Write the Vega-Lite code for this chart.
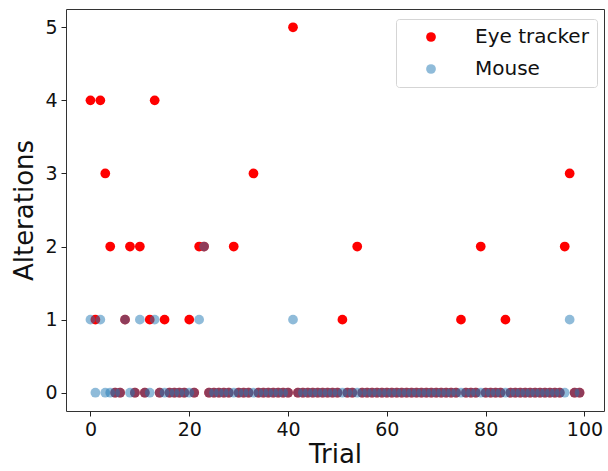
{
  "$schema": "https://vega.github.io/schema/vega-lite/v6.json",
  "width": 538,
  "height": 402,
  "autosize": {"type": "none"},
  "padding": {"left": 66, "top": 9, "right": 4, "bottom": 60},
  "background": "white",
  "config": {
    "font": "DejaVu Sans",
    "view": {"stroke": "#333333", "strokeWidth": 1},
    "axis": {
      "grid": false,
      "domain": false,
      "tickColor": "#222222",
      "tickSize": 5,
      "tickWidth": 1,
      "labelFont": "DejaVu Sans",
      "labelFontSize": 19,
      "labelColor": "#111111",
      "labelPadding": 4,
      "titleFont": "DejaVu Sans",
      "titleFontSize": 26,
      "titleFontWeight": "normal",
      "titleColor": "#111111"
    }
  },
  "data": {
    "values": [
      {"trial": 0, "alterations": 4, "device": "Eye tracker"},
      {"trial": 1, "alterations": 1, "device": "Eye tracker"},
      {"trial": 2, "alterations": 4, "device": "Eye tracker"},
      {"trial": 3, "alterations": 3, "device": "Eye tracker"},
      {"trial": 4, "alterations": 2, "device": "Eye tracker"},
      {"trial": 5, "alterations": 0, "device": "Eye tracker"},
      {"trial": 6, "alterations": 0, "device": "Eye tracker"},
      {"trial": 7, "alterations": 1, "device": "Eye tracker"},
      {"trial": 8, "alterations": 2, "device": "Eye tracker"},
      {"trial": 9, "alterations": 0, "device": "Eye tracker"},
      {"trial": 10, "alterations": 2, "device": "Eye tracker"},
      {"trial": 11, "alterations": 0, "device": "Eye tracker"},
      {"trial": 12, "alterations": 1, "device": "Eye tracker"},
      {"trial": 13, "alterations": 4, "device": "Eye tracker"},
      {"trial": 14, "alterations": 0, "device": "Eye tracker"},
      {"trial": 15, "alterations": 1, "device": "Eye tracker"},
      {"trial": 16, "alterations": 0, "device": "Eye tracker"},
      {"trial": 17, "alterations": 0, "device": "Eye tracker"},
      {"trial": 18, "alterations": 0, "device": "Eye tracker"},
      {"trial": 19, "alterations": 0, "device": "Eye tracker"},
      {"trial": 20, "alterations": 1, "device": "Eye tracker"},
      {"trial": 21, "alterations": 0, "device": "Eye tracker"},
      {"trial": 22, "alterations": 2, "device": "Eye tracker"},
      {"trial": 23, "alterations": 2, "device": "Eye tracker"},
      {"trial": 24, "alterations": 0, "device": "Eye tracker"},
      {"trial": 25, "alterations": 0, "device": "Eye tracker"},
      {"trial": 26, "alterations": 0, "device": "Eye tracker"},
      {"trial": 27, "alterations": 0, "device": "Eye tracker"},
      {"trial": 28, "alterations": 0, "device": "Eye tracker"},
      {"trial": 29, "alterations": 2, "device": "Eye tracker"},
      {"trial": 30, "alterations": 0, "device": "Eye tracker"},
      {"trial": 31, "alterations": 0, "device": "Eye tracker"},
      {"trial": 32, "alterations": 0, "device": "Eye tracker"},
      {"trial": 33, "alterations": 3, "device": "Eye tracker"},
      {"trial": 34, "alterations": 0, "device": "Eye tracker"},
      {"trial": 35, "alterations": 0, "device": "Eye tracker"},
      {"trial": 36, "alterations": 0, "device": "Eye tracker"},
      {"trial": 37, "alterations": 0, "device": "Eye tracker"},
      {"trial": 38, "alterations": 0, "device": "Eye tracker"},
      {"trial": 39, "alterations": 0, "device": "Eye tracker"},
      {"trial": 40, "alterations": 0, "device": "Eye tracker"},
      {"trial": 41, "alterations": 5, "device": "Eye tracker"},
      {"trial": 42, "alterations": 0, "device": "Eye tracker"},
      {"trial": 43, "alterations": 0, "device": "Eye tracker"},
      {"trial": 44, "alterations": 0, "device": "Eye tracker"},
      {"trial": 45, "alterations": 0, "device": "Eye tracker"},
      {"trial": 46, "alterations": 0, "device": "Eye tracker"},
      {"trial": 47, "alterations": 0, "device": "Eye tracker"},
      {"trial": 48, "alterations": 0, "device": "Eye tracker"},
      {"trial": 49, "alterations": 0, "device": "Eye tracker"},
      {"trial": 50, "alterations": 0, "device": "Eye tracker"},
      {"trial": 51, "alterations": 1, "device": "Eye tracker"},
      {"trial": 52, "alterations": 0, "device": "Eye tracker"},
      {"trial": 53, "alterations": 0, "device": "Eye tracker"},
      {"trial": 54, "alterations": 2, "device": "Eye tracker"},
      {"trial": 55, "alterations": 0, "device": "Eye tracker"},
      {"trial": 56, "alterations": 0, "device": "Eye tracker"},
      {"trial": 57, "alterations": 0, "device": "Eye tracker"},
      {"trial": 58, "alterations": 0, "device": "Eye tracker"},
      {"trial": 59, "alterations": 0, "device": "Eye tracker"},
      {"trial": 60, "alterations": 0, "device": "Eye tracker"},
      {"trial": 61, "alterations": 0, "device": "Eye tracker"},
      {"trial": 62, "alterations": 0, "device": "Eye tracker"},
      {"trial": 63, "alterations": 0, "device": "Eye tracker"},
      {"trial": 64, "alterations": 0, "device": "Eye tracker"},
      {"trial": 65, "alterations": 0, "device": "Eye tracker"},
      {"trial": 66, "alterations": 0, "device": "Eye tracker"},
      {"trial": 67, "alterations": 0, "device": "Eye tracker"},
      {"trial": 68, "alterations": 0, "device": "Eye tracker"},
      {"trial": 69, "alterations": 0, "device": "Eye tracker"},
      {"trial": 70, "alterations": 0, "device": "Eye tracker"},
      {"trial": 71, "alterations": 0, "device": "Eye tracker"},
      {"trial": 72, "alterations": 0, "device": "Eye tracker"},
      {"trial": 73, "alterations": 0, "device": "Eye tracker"},
      {"trial": 74, "alterations": 0, "device": "Eye tracker"},
      {"trial": 75, "alterations": 1, "device": "Eye tracker"},
      {"trial": 76, "alterations": 0, "device": "Eye tracker"},
      {"trial": 77, "alterations": 0, "device": "Eye tracker"},
      {"trial": 78, "alterations": 0, "device": "Eye tracker"},
      {"trial": 79, "alterations": 2, "device": "Eye tracker"},
      {"trial": 80, "alterations": 0, "device": "Eye tracker"},
      {"trial": 81, "alterations": 0, "device": "Eye tracker"},
      {"trial": 82, "alterations": 0, "device": "Eye tracker"},
      {"trial": 83, "alterations": 0, "device": "Eye tracker"},
      {"trial": 84, "alterations": 1, "device": "Eye tracker"},
      {"trial": 85, "alterations": 0, "device": "Eye tracker"},
      {"trial": 86, "alterations": 0, "device": "Eye tracker"},
      {"trial": 87, "alterations": 0, "device": "Eye tracker"},
      {"trial": 88, "alterations": 0, "device": "Eye tracker"},
      {"trial": 89, "alterations": 0, "device": "Eye tracker"},
      {"trial": 90, "alterations": 0, "device": "Eye tracker"},
      {"trial": 91, "alterations": 0, "device": "Eye tracker"},
      {"trial": 92, "alterations": 0, "device": "Eye tracker"},
      {"trial": 93, "alterations": 0, "device": "Eye tracker"},
      {"trial": 94, "alterations": 0, "device": "Eye tracker"},
      {"trial": 95, "alterations": 0, "device": "Eye tracker"},
      {"trial": 96, "alterations": 2, "device": "Eye tracker"},
      {"trial": 97, "alterations": 3, "device": "Eye tracker"},
      {"trial": 98, "alterations": 0, "device": "Eye tracker"},
      {"trial": 99, "alterations": 0, "device": "Eye tracker"},
      {"trial": 0, "alterations": 1, "device": "Mouse"},
      {"trial": 1, "alterations": 0, "device": "Mouse"},
      {"trial": 2, "alterations": 1, "device": "Mouse"},
      {"trial": 3, "alterations": 0, "device": "Mouse"},
      {"trial": 4, "alterations": 0, "device": "Mouse"},
      {"trial": 5, "alterations": 0, "device": "Mouse"},
      {"trial": 6, "alterations": 0, "device": "Mouse"},
      {"trial": 7, "alterations": 1, "device": "Mouse"},
      {"trial": 8, "alterations": 0, "device": "Mouse"},
      {"trial": 9, "alterations": 0, "device": "Mouse"},
      {"trial": 10, "alterations": 1, "device": "Mouse"},
      {"trial": 11, "alterations": 0, "device": "Mouse"},
      {"trial": 12, "alterations": 0, "device": "Mouse"},
      {"trial": 13, "alterations": 1, "device": "Mouse"},
      {"trial": 14, "alterations": 0, "device": "Mouse"},
      {"trial": 15, "alterations": 0, "device": "Mouse"},
      {"trial": 16, "alterations": 0, "device": "Mouse"},
      {"trial": 17, "alterations": 0, "device": "Mouse"},
      {"trial": 18, "alterations": 0, "device": "Mouse"},
      {"trial": 19, "alterations": 0, "device": "Mouse"},
      {"trial": 20, "alterations": 0, "device": "Mouse"},
      {"trial": 21, "alterations": 0, "device": "Mouse"},
      {"trial": 22, "alterations": 1, "device": "Mouse"},
      {"trial": 23, "alterations": 2, "device": "Mouse"},
      {"trial": 24, "alterations": 0, "device": "Mouse"},
      {"trial": 25, "alterations": 0, "device": "Mouse"},
      {"trial": 26, "alterations": 0, "device": "Mouse"},
      {"trial": 27, "alterations": 0, "device": "Mouse"},
      {"trial": 28, "alterations": 0, "device": "Mouse"},
      {"trial": 29, "alterations": 0, "device": "Mouse"},
      {"trial": 30, "alterations": 0, "device": "Mouse"},
      {"trial": 31, "alterations": 0, "device": "Mouse"},
      {"trial": 32, "alterations": 0, "device": "Mouse"},
      {"trial": 33, "alterations": 0, "device": "Mouse"},
      {"trial": 34, "alterations": 0, "device": "Mouse"},
      {"trial": 35, "alterations": 0, "device": "Mouse"},
      {"trial": 36, "alterations": 0, "device": "Mouse"},
      {"trial": 37, "alterations": 0, "device": "Mouse"},
      {"trial": 38, "alterations": 0, "device": "Mouse"},
      {"trial": 39, "alterations": 0, "device": "Mouse"},
      {"trial": 40, "alterations": 0, "device": "Mouse"},
      {"trial": 41, "alterations": 1, "device": "Mouse"},
      {"trial": 42, "alterations": 0, "device": "Mouse"},
      {"trial": 43, "alterations": 0, "device": "Mouse"},
      {"trial": 44, "alterations": 0, "device": "Mouse"},
      {"trial": 45, "alterations": 0, "device": "Mouse"},
      {"trial": 46, "alterations": 0, "device": "Mouse"},
      {"trial": 47, "alterations": 0, "device": "Mouse"},
      {"trial": 48, "alterations": 0, "device": "Mouse"},
      {"trial": 49, "alterations": 0, "device": "Mouse"},
      {"trial": 50, "alterations": 0, "device": "Mouse"},
      {"trial": 51, "alterations": 0, "device": "Mouse"},
      {"trial": 52, "alterations": 0, "device": "Mouse"},
      {"trial": 53, "alterations": 0, "device": "Mouse"},
      {"trial": 54, "alterations": 0, "device": "Mouse"},
      {"trial": 55, "alterations": 0, "device": "Mouse"},
      {"trial": 56, "alterations": 0, "device": "Mouse"},
      {"trial": 57, "alterations": 0, "device": "Mouse"},
      {"trial": 58, "alterations": 0, "device": "Mouse"},
      {"trial": 59, "alterations": 0, "device": "Mouse"},
      {"trial": 60, "alterations": 0, "device": "Mouse"},
      {"trial": 61, "alterations": 0, "device": "Mouse"},
      {"trial": 62, "alterations": 0, "device": "Mouse"},
      {"trial": 63, "alterations": 0, "device": "Mouse"},
      {"trial": 64, "alterations": 0, "device": "Mouse"},
      {"trial": 65, "alterations": 0, "device": "Mouse"},
      {"trial": 66, "alterations": 0, "device": "Mouse"},
      {"trial": 67, "alterations": 0, "device": "Mouse"},
      {"trial": 68, "alterations": 0, "device": "Mouse"},
      {"trial": 69, "alterations": 0, "device": "Mouse"},
      {"trial": 70, "alterations": 0, "device": "Mouse"},
      {"trial": 71, "alterations": 0, "device": "Mouse"},
      {"trial": 72, "alterations": 0, "device": "Mouse"},
      {"trial": 73, "alterations": 0, "device": "Mouse"},
      {"trial": 74, "alterations": 0, "device": "Mouse"},
      {"trial": 75, "alterations": 0, "device": "Mouse"},
      {"trial": 76, "alterations": 0, "device": "Mouse"},
      {"trial": 77, "alterations": 0, "device": "Mouse"},
      {"trial": 78, "alterations": 0, "device": "Mouse"},
      {"trial": 79, "alterations": 0, "device": "Mouse"},
      {"trial": 80, "alterations": 0, "device": "Mouse"},
      {"trial": 81, "alterations": 0, "device": "Mouse"},
      {"trial": 82, "alterations": 0, "device": "Mouse"},
      {"trial": 83, "alterations": 0, "device": "Mouse"},
      {"trial": 84, "alterations": 0, "device": "Mouse"},
      {"trial": 85, "alterations": 0, "device": "Mouse"},
      {"trial": 86, "alterations": 0, "device": "Mouse"},
      {"trial": 87, "alterations": 0, "device": "Mouse"},
      {"trial": 88, "alterations": 0, "device": "Mouse"},
      {"trial": 89, "alterations": 0, "device": "Mouse"},
      {"trial": 90, "alterations": 0, "device": "Mouse"},
      {"trial": 91, "alterations": 0, "device": "Mouse"},
      {"trial": 92, "alterations": 0, "device": "Mouse"},
      {"trial": 93, "alterations": 0, "device": "Mouse"},
      {"trial": 94, "alterations": 0, "device": "Mouse"},
      {"trial": 95, "alterations": 0, "device": "Mouse"},
      {"trial": 96, "alterations": 0, "device": "Mouse"},
      {"trial": 97, "alterations": 1, "device": "Mouse"},
      {"trial": 98, "alterations": 0, "device": "Mouse"},
      {"trial": 99, "alterations": 0, "device": "Mouse"}
    ]
  },
  "mark": {"type": "circle", "size": 95},
  "encoding": {
    "x": {
      "field": "trial",
      "type": "quantitative",
      "scale": {"domain": [-4.95, 103.95], "nice": false, "zero": false},
      "axis": {"values": [0, 20, 40, 60, 80, 100], "title": "Trial", "titlePadding": 2}
    },
    "y": {
      "field": "alterations",
      "type": "quantitative",
      "scale": {"domain": [-0.25, 5.25], "nice": false, "zero": false},
      "axis": {"values": [0, 1, 2, 3, 4, 5], "title": "Alterations", "titlePadding": 7}
    },
    "color": {
      "field": "device",
      "type": "nominal",
      "scale": {"domain": ["Eye tracker", "Mouse"], "range": ["#ff0000", "#1f77b4"]},
      "legend": {
        "title": null,
        "orient": "none",
        "legendX": 330,
        "legendY": 10,
        "padding": 8,
        "strokeColor": "#d5d5d5",
        "fillColor": "white",
        "cornerRadius": 3,
        "symbolType": "circle",
        "symbolSize": 95,
        "symbolOffset": 17,
        "labelOffset": 34,
        "labelFont": "DejaVu Sans",
        "labelFontSize": 20,
        "labelColor": "#111111",
        "rowPadding": 12
      }
    },
    "opacity": {
      "field": "device",
      "type": "nominal",
      "scale": {"domain": ["Eye tracker", "Mouse"], "range": [1, 0.5]},
      "legend": {
        "title": null,
        "orient": "none",
        "legendX": 330,
        "legendY": 10,
        "padding": 8,
        "strokeColor": "#d5d5d5",
        "fillColor": "white",
        "cornerRadius": 3,
        "symbolType": "circle",
        "symbolSize": 95,
        "symbolOffset": 17,
        "labelOffset": 34,
        "labelFont": "DejaVu Sans",
        "labelFontSize": 20,
        "labelColor": "#111111",
        "rowPadding": 12
      }
    }
  }
}
